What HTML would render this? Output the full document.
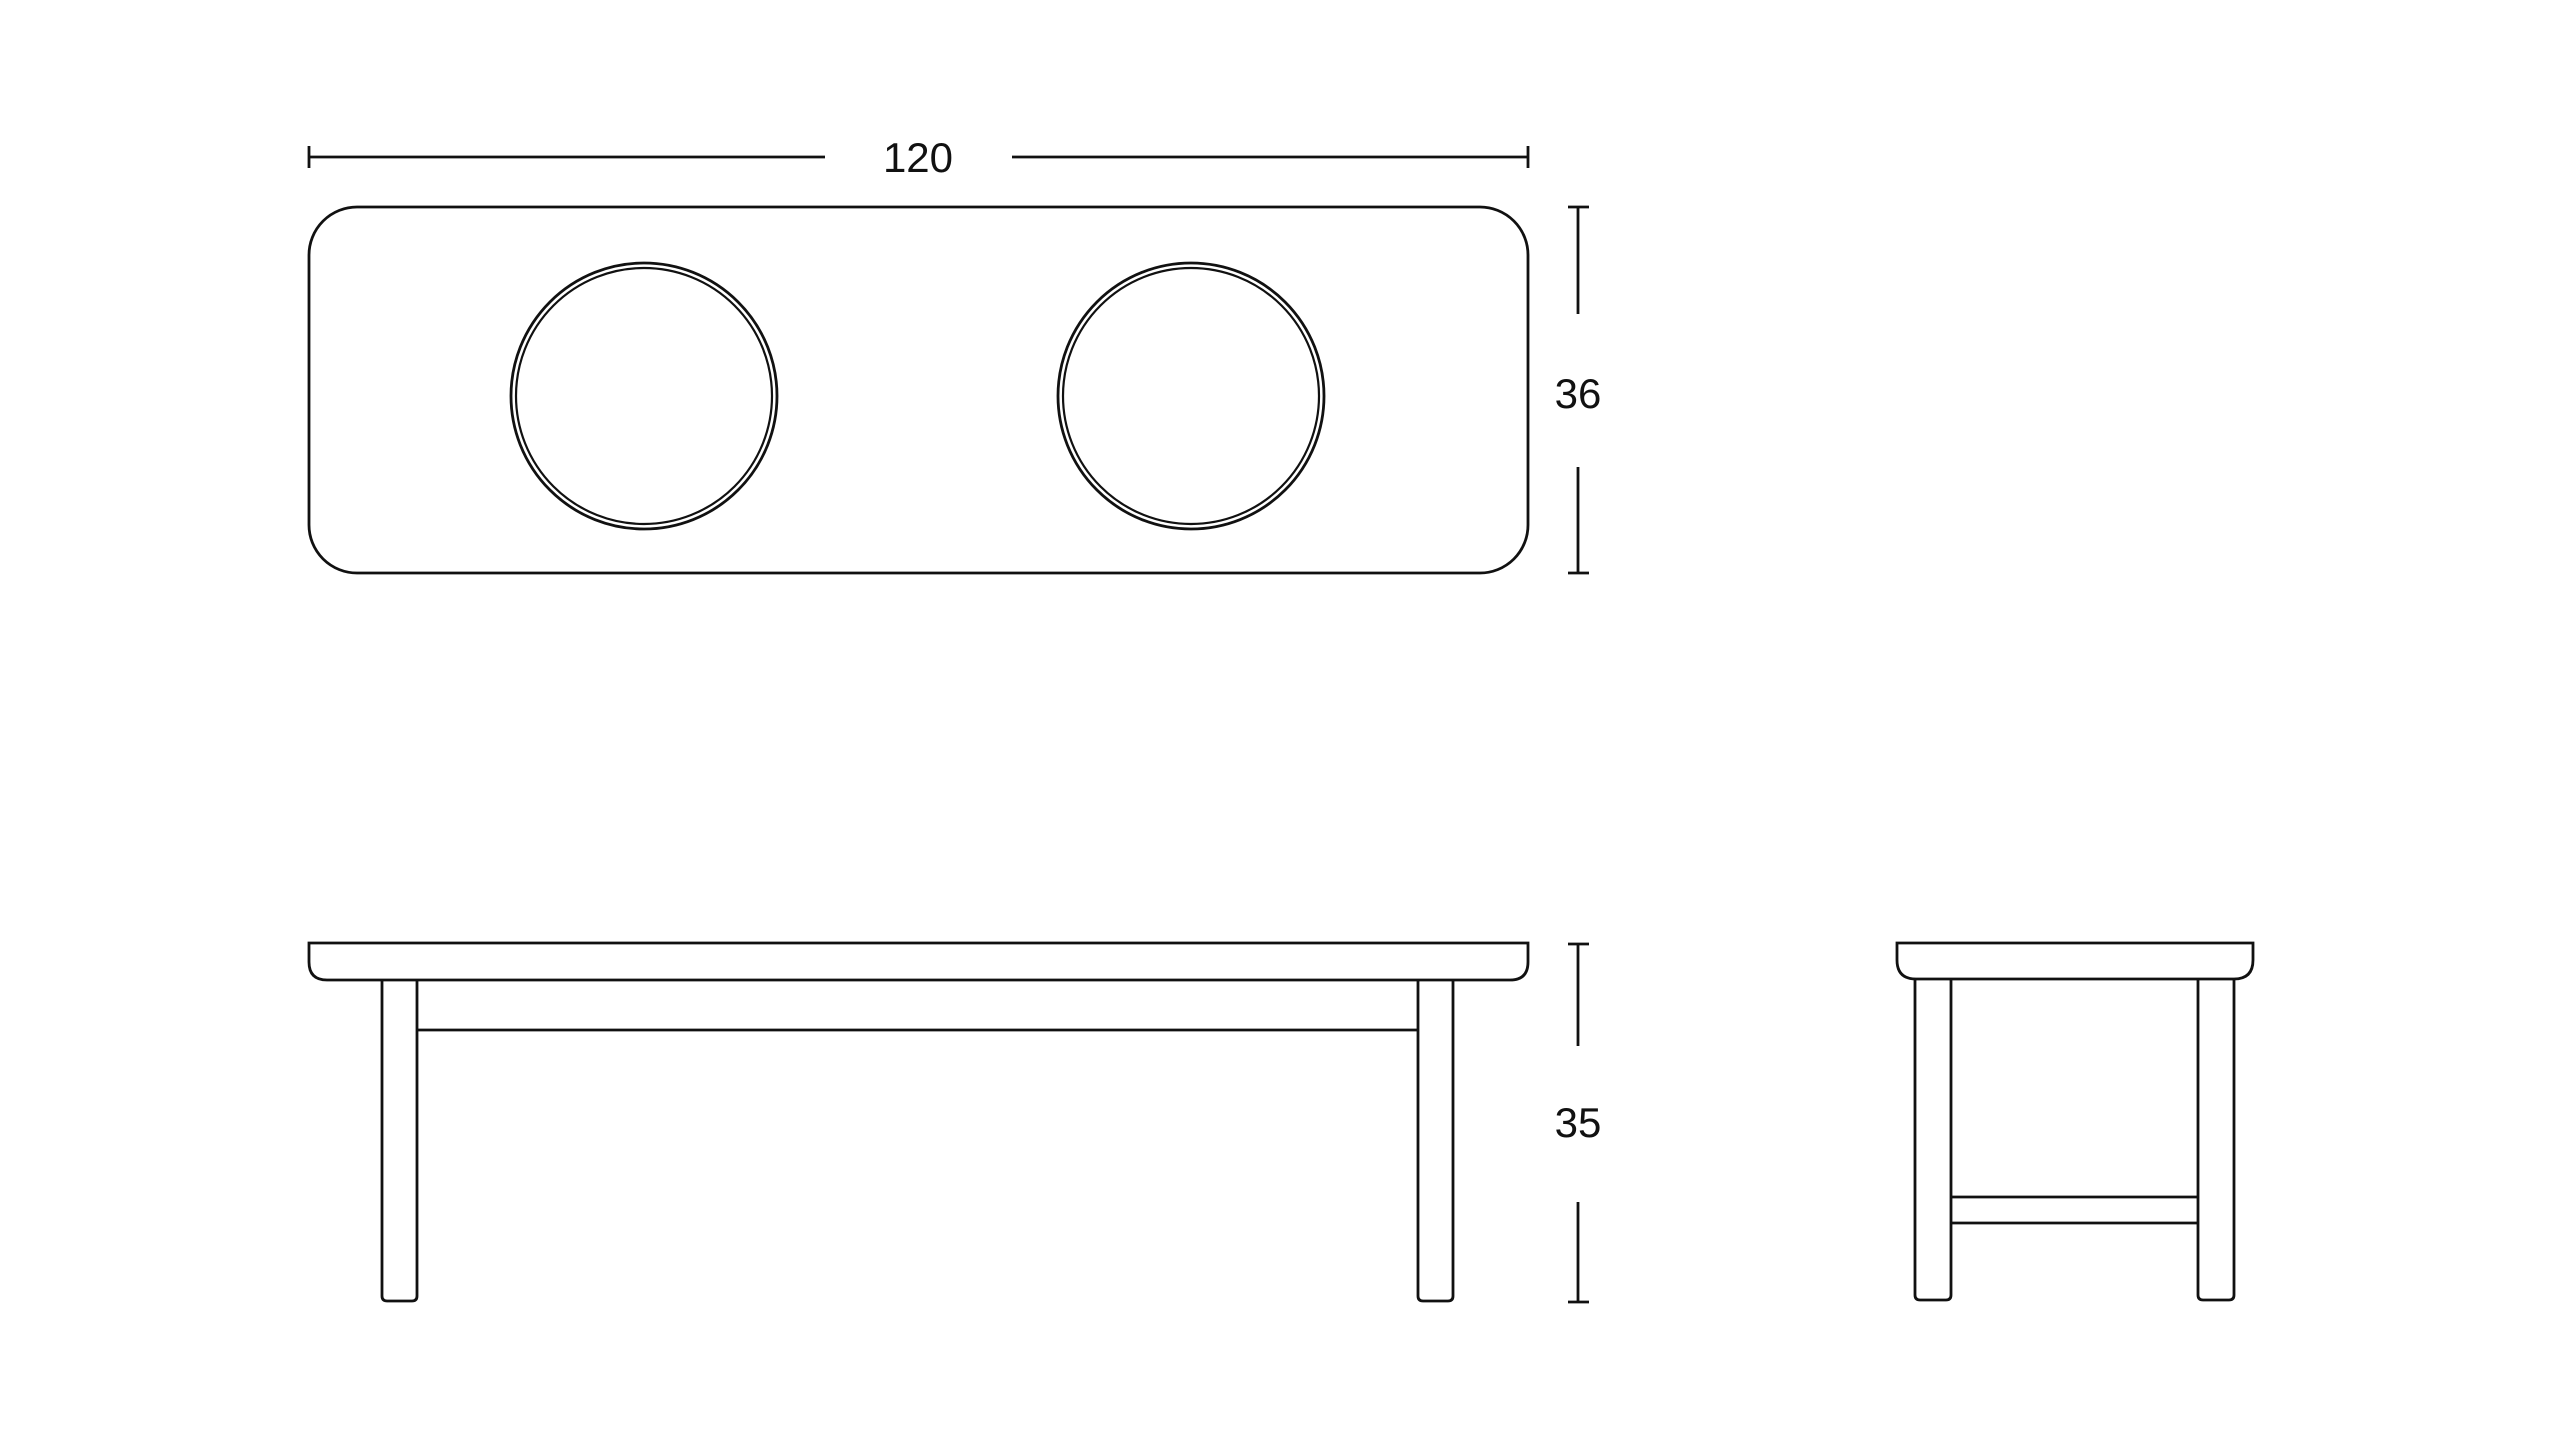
<!DOCTYPE html>
<html><head><meta charset="utf-8"><style>
html,body{margin:0;padding:0;background:#fff;}
svg{display:block}
text{font-family:"Liberation Sans",sans-serif;font-size:42px;fill:#111;}
</style></head><body>
<svg width="2560" height="1440" viewBox="0 0 2560 1440" xmlns="http://www.w3.org/2000/svg">
<g fill="none" stroke="#111" stroke-width="2.8">
<line x1="309" y1="157" x2="825" y2="157"/>
<line x1="1012" y1="157" x2="1528" y2="157"/>
<line x1="309" y1="146" x2="309" y2="168"/>
<line x1="1528" y1="146" x2="1528" y2="168"/>
<rect x="309" y="207" width="1219" height="366" rx="48" ry="48"/>
<circle cx="644" cy="396" r="133"/>
<circle cx="644" cy="396" r="128" stroke-width="2.2"/>
<circle cx="1191" cy="396" r="133"/>
<circle cx="1191" cy="396" r="128" stroke-width="2.2"/>
<line x1="1578" y1="207" x2="1578" y2="314"/>
<line x1="1578" y1="467" x2="1578" y2="573"/>
<line x1="1568" y1="207" x2="1589" y2="207"/>
<line x1="1568" y1="573" x2="1589" y2="573"/>
<path d="M309,943 H1528 V962 Q1528,980 1510,980 H327 Q309,980 309,962 Z"/>
<path d="M382,980 V1296 Q382,1301 387,1301 H412 Q417,1301 417,1296 V980"/>
<path d="M1418,980 V1296 Q1418,1301 1423,1301 H1448 Q1453,1301 1453,1296 V980"/>
<line x1="417" y1="1030" x2="1418" y2="1030"/>
<line x1="1578" y1="944" x2="1578" y2="1046"/>
<line x1="1578" y1="1202" x2="1578" y2="1302"/>
<line x1="1568" y1="944" x2="1589" y2="944"/>
<line x1="1568" y1="1302" x2="1589" y2="1302"/>
<path d="M1897,943 H2253 V960 Q2253,979 2234,979 H1916 Q1897,979 1897,960 Z"/>
<path d="M1915,979 V1295 Q1915,1300 1920,1300 H1946 Q1951,1300 1951,1295 V979"/>
<path d="M2198,979 V1295 Q2198,1300 2203,1300 H2229 Q2234,1300 2234,1295 V979"/>
<line x1="1951" y1="1197" x2="2198" y2="1197"/>
<line x1="1951" y1="1223" x2="2198" y2="1223"/>
</g>
<text x="918" y="172" text-anchor="middle">120</text>
<text x="1578" y="408" text-anchor="middle">36</text>
<text x="1578" y="1137" text-anchor="middle">35</text>
</svg>
</body></html>
